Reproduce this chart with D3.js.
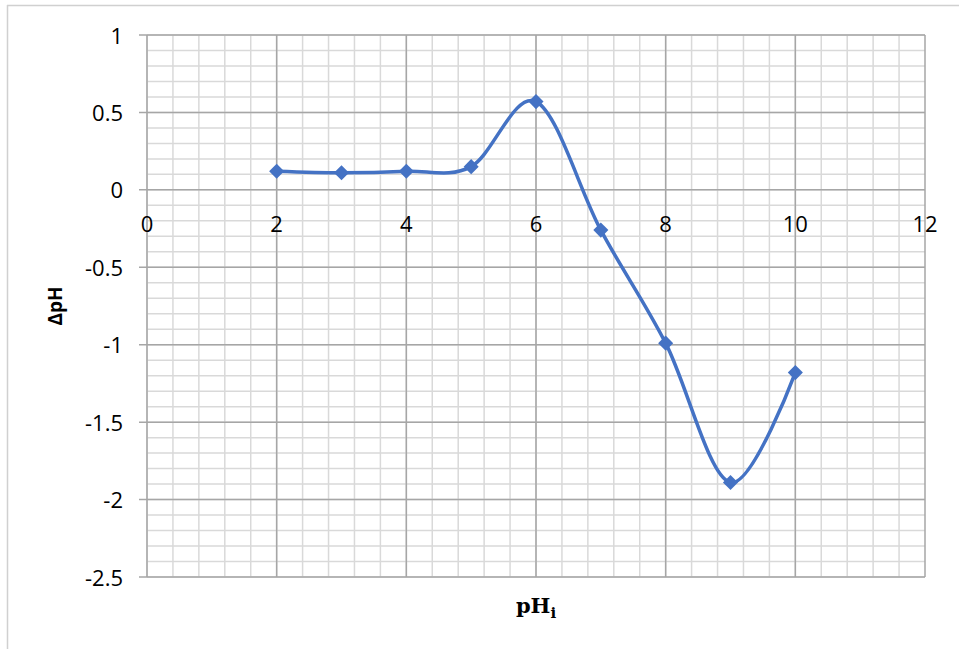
<!DOCTYPE html>
<html>
<head>
<meta charset="utf-8">
<script src="https://cdn.jsdelivr.net/npm/d3@7"></script>
<style>
  body { margin: 0; background: #fff; }
  svg { display: block; }
</style>
</head>
<body>
<svg id="chart"></svg>
<script>
// data
let phInitial = [2, 3, 4, 5, 6, 7, 8, 9, 10];
let deltaPh = [0.12, 0.11, 0.12, 0.15, 0.57, -0.26, -0.99, -1.89, -1.18];
let xTicks = [0, 2, 4, 6, 8, 10, 12];
let yTicks = [1, 0.5, 0, -0.5, -1, -1.5, -2, -2.5];

let svgWidth = 959, svgHeight = 649;
let plotLeft = 147, plotRight = 925, plotTop = 35, plotBottom = 577;

let svg = d3.select('#chart')
    .attr('width', svgWidth)
    .attr('height', svgHeight);

// chart frame (only left and top edges show)
svg.append('line')
    .attr('x1', 7.5).attr('x2', 7.5).attr('y1', 5).attr('y2', svgHeight)
    .attr('stroke', '#d0d0d0').attr('stroke-width', 1.5);
svg.append('line')
    .attr('x1', 7).attr('x2', svgWidth).attr('y1', 5.5).attr('y2', 5.5)
    .attr('stroke', '#d0d0d0').attr('stroke-width', 1.5);

let x = d3.scaleLinear().domain([0, 12]).range([plotLeft, plotRight]);
let y = d3.scaleLinear().domain([-2.5, 1]).range([plotBottom, plotTop]);

// minor grid
let grid = svg.append('g');
grid.selectAll('.vminor')
    .data(d3.range(0, 30).map(i => i * 0.4))
    .enter().append('line')
    .attr('x1', d => x(d)).attr('x2', d => x(d))
    .attr('y1', plotTop).attr('y2', plotBottom)
    .attr('stroke', '#d9d9d9').attr('stroke-width', 1.5);
grid.selectAll('.hminor')
    .data(d3.range(0, 36).map(i => -2.5 + i * 0.1))
    .enter().append('line')
    .attr('x1', plotLeft).attr('x2', plotRight)
    .attr('y1', d => y(d)).attr('y2', d => y(d))
    .attr('stroke', '#d9d9d9').attr('stroke-width', 1.5);

// major grid
grid.selectAll('.vmajor')
    .data(xTicks)
    .enter().append('line')
    .attr('x1', d => x(d)).attr('x2', d => x(d))
    .attr('y1', plotTop).attr('y2', plotBottom)
    .attr('stroke', '#a6a6a6').attr('stroke-width', 1.5);
grid.selectAll('.hmajor')
    .data(yTicks)
    .enter().append('line')
    .attr('x1', plotLeft - 8).attr('x2', plotRight)
    .attr('y1', d => y(d)).attr('y2', d => y(d))
    .attr('stroke', '#a6a6a6').attr('stroke-width', 1.5);

// y axis labels
svg.selectAll('.ylab')
    .data(yTicks)
    .enter().append('text')
    .attr('x', 123)
    .attr('y', d => y(d) + 8.5)
    .attr('text-anchor', 'end')
    .attr('font-family', '"Open Sans", sans-serif')
    .attr('font-size', 22)
    .attr('fill', '#000')
    .text(d => d);

// x axis labels sit under the zero line
svg.selectAll('.xlab')
    .data(xTicks)
    .enter().append('text')
    .attr('x', d => x(d))
    .attr('y', y(0) + 42)
    .attr('text-anchor', 'middle')
    .attr('font-family', '"Open Sans", sans-serif')
    .attr('font-size', 22)
    .attr('fill', '#000')
    .text(d => d);

// axis titles
svg.append('text')
    .attr('transform', 'translate(62,' + ((plotTop + plotBottom) / 2) + ') rotate(-90)')
    .attr('text-anchor', 'middle')
    .attr('font-family', '"Open Sans", sans-serif')
    .attr('font-weight', 'bold')
    .attr('font-size', 19)
    .text('ΔpH');

let xt = svg.append('text')
    .attr('x', (plotLeft + plotRight) / 2)
    .attr('y', 613)
    .attr('text-anchor', 'middle')
    .attr('font-family', '"DejaVu Serif", "Liberation Serif", serif')
    .attr('font-weight', 'bold')
    .attr('font-size', 21);
xt.append('tspan').text('pH');
xt.append('tspan').attr('font-size', 15).attr('dy', 5).text('i');

// smoothed series
let points = phInitial.map((d, i) => [d, deltaPh[i]]);
let line = d3.line()
    .x(d => x(d[0]))
    .y(d => y(d[1]))
    .curve(d3.curveCardinal.tension(0));

svg.append('path')
    .datum(points)
    .attr('d', line)
    .attr('fill', 'none')
    .attr('stroke', '#4472c4')
    .attr('stroke-width', 3.5);

svg.selectAll('.marker')
    .data(points)
    .enter().append('path')
    .attr('d', d3.symbol().type(d3.symbolDiamond2).size(145))
    .attr('transform', d => 'translate(' + x(d[0]) + ',' + y(d[1]) + ')')
    .attr('fill', '#4472c4');
</script>
</body>
</html>
